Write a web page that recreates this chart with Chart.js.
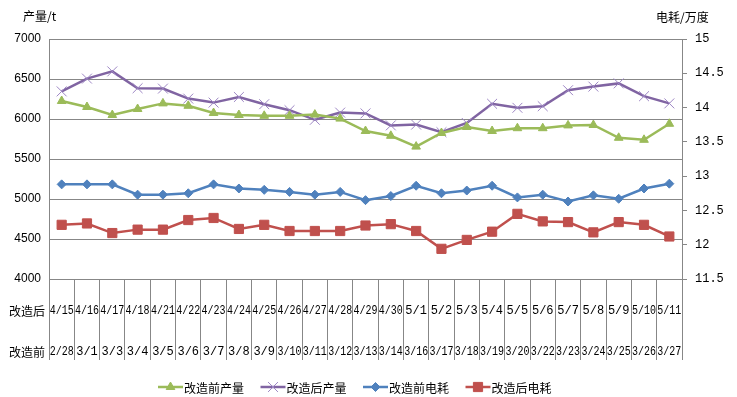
<!DOCTYPE html>
<html>
<head>
<meta charset="utf-8">
<script src="https://cdn.jsdelivr.net/npm/chart.js@4.4.1/dist/chart.umd.min.js"></script>
<style>
  html, body { margin: 0; padding: 0; background: #fff; }
</style>
</head>
<body>
<canvas id="chart" width="737" height="397"></canvas>
<script>
// x categories, two rows
var afterDates = ['4/15', '4/16', '4/17', '4/18', '4/21', '4/22', '4/23', '4/24', '4/25', '4/26', '4/27', '4/28', '4/29',
    '4/30', '5/1', '5/2', '5/3', '5/4', '5/5', '5/6', '5/7', '5/8', '5/9', '5/10', '5/11'];
var beforeDates = ['2/28', '3/1', '3/3', '3/4', '3/5', '3/6', '3/7', '3/8', '3/9', '3/10', '3/11', '3/12', '3/13',
    '3/14', '3/16', '3/17', '3/18', '3/19', '3/20', '3/22', '3/23', '3/24', '3/25', '3/26', '3/27'];

// series (left axis: t, right axis: 万度)
var prodBefore = [6225, 6150, 6050, 6125, 6195, 6165, 6075, 6050, 6040, 6040, 6055, 6005, 5850,
    5790, 5655, 5825, 5900, 5850, 5885, 5885, 5920, 5925, 5765, 5740, 5940];
var prodAfter = [6345, 6505, 6595, 6385, 6380, 6255, 6205, 6275, 6185, 6110, 5990, 6080, 6070,
    5920, 5930, 5835, 5950, 6190, 6140, 6160, 6360, 6405, 6445, 6285, 6195];
var powerBefore = [12.88, 12.88, 12.88, 12.73, 12.73, 12.75, 12.88, 12.82, 12.80, 12.77, 12.73, 12.77, 12.65,
    12.71, 12.86, 12.75, 12.79, 12.86, 12.69, 12.73, 12.63, 12.72, 12.67, 12.82, 12.89];
var powerAfter = [12.29, 12.31, 12.17, 12.22, 12.22, 12.36, 12.39, 12.23, 12.29, 12.20, 12.20, 12.20, 12.28,
    12.30, 12.20, 11.94, 12.07, 12.19, 12.45, 12.34, 12.33, 12.18, 12.33, 12.29, 12.12];

var seriesNames = ['改造前产量', '改造后产量', '改造前电耗', '改造后电耗'];

var gridColor = '#878787';

// category labels, axis titles and legend are drawn here
var extraText = {
    id: 'extraText',
    afterDraw: function (chart) {
        var ctx = chart.ctx;
        var xScale = chart.scales.x;
        ctx.save();
        ctx.fillStyle = '#000';
        ctx.textBaseline = 'middle';

        ctx.textAlign = 'center';
        ctx.font = '12px "Liberation Mono"';
        for (var i = 0; i < afterDates.length; i++) {
            var px = xScale.getPixelForValue(i);
            ctx.fillText(afterDates[i], px, 311, 24);
            ctx.fillText(beforeDates[i], px, 352, 24);
        }

        ctx.font = '12px "Noto Sans CJK SC"';
        ctx.textAlign = 'right';
        ctx.fillText('改造后', 45, 311);
        ctx.fillText('改造前', 45, 352);

        ctx.textAlign = 'left';
        ctx.fillText('产量/t', 23, 16);
        ctx.fillText('电耗/万度', 656, 17);

        // legend
        var ly = 387;
        chart.data.datasets.forEach(function (ds, k) {
            var lx = 158 + 102.5 * k;
            ctx.strokeStyle = ds.borderColor;
            ctx.lineWidth = ds.borderWidth;
            ctx.beginPath();
            ctx.moveTo(lx, ly);
            ctx.lineTo(lx + 25, ly);
            ctx.stroke();
            ctx.fillStyle = ds.pointBackgroundColor;
            ctx.strokeStyle = ds.pointBorderColor;
            ctx.lineWidth = ds.pointBorderWidth;
            Chart.helpers.drawPoint(ctx, {
                pointStyle: ds.pointStyle,
                radius: ds.pointRadius,
                rotation: 0,
                borderWidth: ds.pointBorderWidth
            }, lx + 12.5, ly);
            ctx.fillStyle = '#000';
            ctx.fillText(ds.label, lx + 26, ly + 1);
        });
        ctx.restore();
    }
};

var ctx = document.getElementById('chart');

var chartData = {
    labels: afterDates,
    datasets: [{
        label: seriesNames[0],
        data: prodBefore,
        yAxisID: 'y',
        borderColor: '#9BBB59',
        borderWidth: 2.5,
        pointStyle: 'triangle',
        pointRadius: 5,
        pointBackgroundColor: '#9BBB59',
        pointBorderColor: '#9BBB59',
        pointBorderWidth: 1
    }, {
        label: seriesNames[1],
        data: prodAfter,
        yAxisID: 'y',
        borderColor: '#8064A2',
        borderWidth: 2.5,
        pointStyle: 'crossRot',
        pointRadius: 7,
        pointBackgroundColor: '#9D86C4',
        pointBorderColor: '#9D86C4',
        pointBorderWidth: 1
    }, {
        label: seriesNames[2],
        data: powerBefore,
        yAxisID: 'y1',
        borderColor: '#4F81BD',
        borderWidth: 2.5,
        pointStyle: 'rectRot',
        pointRadius: 4.5,
        pointBackgroundColor: '#4F81BD',
        pointBorderColor: '#4F81BD',
        pointBorderWidth: 1
    }, {
        label: seriesNames[3],
        data: powerAfter,
        yAxisID: 'y1',
        borderColor: '#C0504D',
        borderWidth: 2.5,
        pointStyle: 'rect',
        pointRadius: 6.5,
        pointBackgroundColor: '#C0504D',
        pointBorderColor: '#C0504D',
        pointBorderWidth: 1
    }]
};

var chartOptions = {
    responsive: false,
    animation: false,
    layout: { padding: { top: 39, bottom: 37, left: 0, right: 0 } },
    plugins: {
        legend: { display: false },
        tooltip: { enabled: false }
    },
    scales: {
        x: {
            type: 'category',
            offset: true,
            grid: { offset: true, drawOnChartArea: false, drawTicks: true, tickLength: 81, color: gridColor },
            border: { display: true, color: gridColor },
            ticks: { display: false },
            afterFit: function (s) { s.height = 81; }
        },
        y: {
            position: 'left',
            min: 4000,
            max: 7000,
            grid: { color: gridColor, drawTicks: false },
            border: { display: true, color: gridColor },
            ticks: {
                stepSize: 500,
                padding: 8,
                color: '#000',
                font: { family: 'Liberation Sans', size: 12 },
                callback: function (v) { return String(v); }
            },
            afterFit: function (s) { s.width = 49; }
        },
        y1: {
            position: 'right',
            min: 11.5,
            max: 15,
            grid: { drawOnChartArea: false, drawTicks: true, tickLength: 5, color: gridColor },
            border: { display: true, color: gridColor },
            ticks: {
                stepSize: 0.5,
                padding: 8,
                color: '#000',
                font: { family: 'Liberation Mono', size: 12 },
                callback: function (v) { return String(v); }
            },
            afterFit: function (s) { s.width = 55; }
        }
    }
};

var lineChart = new Chart(ctx, {
    type: 'line',
    data: chartData,
    options: chartOptions,
    plugins: [extraText]
});
</script>
</body>
</html>
